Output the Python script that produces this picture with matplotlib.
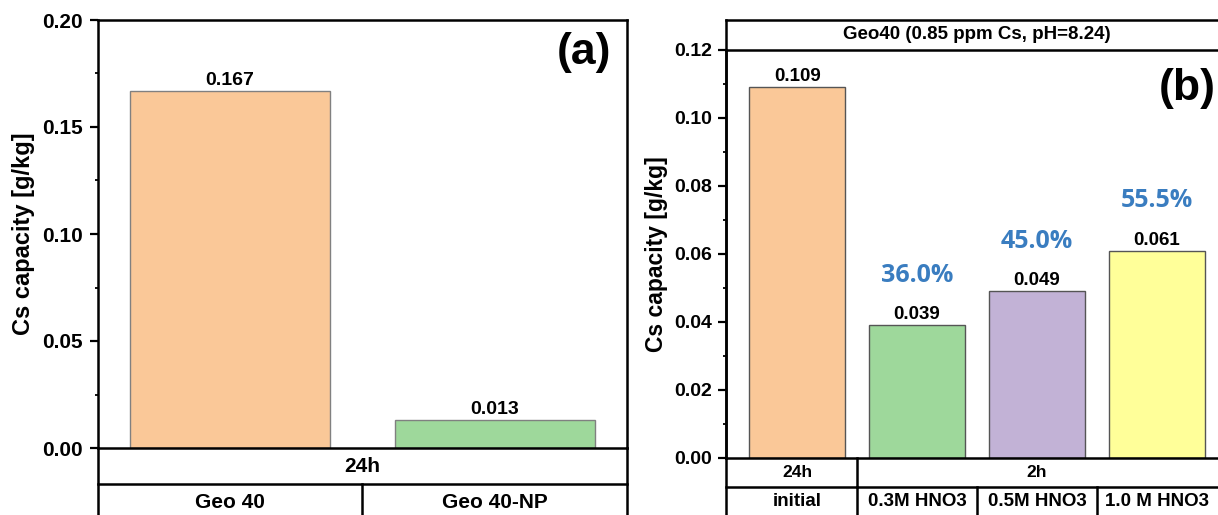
import matplotlib
matplotlib.use("Agg")
import matplotlib.pyplot as plt
from matplotlib.lines import Line2D
from matplotlib.ticker import FormatStrFormatter, MultipleLocator
import matplotlib.transforms as mtrans

plt.rcParams["font.family"] = ["Liberation Sans", "DejaVu Sans"]
plt.rcParams["font.weight"] = "bold"

# ---- data ----
cats_a = ["Geo 40", "Geo 40-NP"]
vals_a = [0.167, 0.013]
colors_a = ["#FAC898", "#9ED89B"]
time_a = "24h"

cats_b = ["initial", "0.3M HNO3", "0.5M HNO3", "1.0 M HNO3"]
vals_b = [0.109, 0.039, 0.049, 0.061]
colors_b = ["#FAC898", "#9ED89B", "#C2B2D6", "#FFFF99"]
pct_b = [None, 36.0, 45.0, 55.5]
time_groups_b = [("24h", 0, 1), ("2h", 1, 4)]   # label, first idx, end idx
header_b = "Geo40 (0.85 ppm Cs, pH=8.24)"

W, H = 1218, 515
fig = plt.figure(figsize=(W / 100, H / 100), dpi=100)


def px_axes(l, t, r, b):
    return fig.add_axes([l / W, 1 - b / H, (r - l) / W, (b - t) / H])


LW = 1.8
PCT_BLUE = "#3A7DC0"


def style(ax, major, minor, fs, pad):
    for s in ax.spines.values():
        s.set_linewidth(LW)
    ax.set_xticks([])
    ax.yaxis.set_major_locator(MultipleLocator(major))
    ax.yaxis.set_minor_locator(MultipleLocator(minor))
    ax.yaxis.set_major_formatter(FormatStrFormatter("%.2f"))
    ax.tick_params(axis="y", which="major", direction="out", length=5.5,
                   width=1.6, labelsize=fs, pad=pad)
    ax.tick_params(axis="y", which="minor", direction="out", length=2.5, width=1.3)
    for lab in ax.get_yticklabels():
        lab.set_fontweight("bold")


def hline(ax, y, x0=0, x1=1, tr=None):
    ax.add_line(Line2D([x0, x1], [y, y], transform=tr or ax.transAxes,
                       color="black", lw=LW, clip_on=False))


def vline(ax, x, y0, y1, tr=None):
    ax.add_line(Line2D([x, x], [y0, y1], transform=tr or ax.transAxes,
                       color="black", lw=LW, clip_on=False))


# ---------------- panel (a) ----------------
axa = px_axes(97.5, 20, 627, 448)
xa = list(range(1, len(cats_a) + 1))
axa.bar(xa, vals_a, width=0.755, color=colors_a, edgecolor="#808080", linewidth=1.0)
axa.set_xlim(0.5, len(cats_a) + 0.5)
axa.set_ylim(0, 0.20)
style(axa, 0.05, 0.025, 15, 5)
for x, v in zip(xa, vals_a):
    axa.annotate(f"{v:.3f}", (x, v), xytext=(0, 1.5), textcoords="offset points",
                 ha="center", va="bottom", fontsize=14, fontweight="bold")
axa.text(-0.14, 0.5, "Cs capacity [g/kg]", transform=axa.transAxes, rotation=90,
         ha="center", va="center", fontsize=17, fontweight="bold")
axa.text(0.97, 0.925, "(a)", transform=axa.transAxes, ha="right", va="center",
         fontsize=32, fontweight="bold")

ha_px = 428.0
r1 = -36 / ha_px
r2 = -72 / ha_px
hline(axa, r1)
vline(axa, 0, 0, -0.3)
vline(axa, 1, 0, -0.3)
blend_a = mtrans.blended_transform_factory(axa.transData, axa.transAxes)
axa.text(0.5, r1 / 2, time_a, transform=axa.transAxes, ha="center", va="center",
         fontsize=15, fontweight="bold")
for i, c in enumerate(cats_a):
    axa.text(xa[i], (r1 + r2) / 2, c, transform=blend_a, ha="center", va="center",
             fontsize=15, fontweight="bold")
    if i > 0:
        vline(axa, xa[i] - 0.5, r1, -0.3, tr=blend_a)

# ---------------- panel (b) ----------------
axb = px_axes(725.5, 50, 1228.5, 458)
xb = list(range(1, len(cats_b) + 1))
axb.bar(xb, vals_b, width=0.8, color=colors_b, edgecolor="#555555", linewidth=1.0)
axb.set_xlim(0.4, len(cats_b) + 0.6)
axb.set_ylim(0, 0.12)
style(axb, 0.02, 0.01, 14, 4)
for x, v, p in zip(xb, vals_b, pct_b):
    axb.annotate(f"{v:.3f}", (x, v), xytext=(0, 1.5), textcoords="offset points",
                 ha="center", va="bottom", fontsize=13.5, fontweight="bold")
    if p is not None:
        axb.text(x, v + 0.0148, f"{p:.1f}%", ha="center", va="center",
                 fontsize=18, fontweight="bold", color=PCT_BLUE,
                 family=["Open Sans", "DejaVu Sans"])
axb.text(-0.138, 0.5, "Cs capacity [g/kg]", transform=axb.transAxes, rotation=90,
         ha="center", va="center", fontsize=16.5, fontweight="bold")
axb.text(0.975, 0.905, "(b)", transform=axb.transAxes, ha="right", va="center",
         fontsize=32, fontweight="bold")

hb_px = 408.0
top = 1 + 30.5 / hb_px
hline(axb, top)
vline(axb, 0, 0, top)
vline(axb, 1, 0, top)
axb.text(0.5, (1 + top) / 2, header_b, transform=axb.transAxes, ha="center",
         va="center", fontsize=13.5, fontweight="bold")

q1 = -29 / hb_px
q2 = -59 / hb_px
hline(axb, q1)
vline(axb, 0, 0, -0.3)
vline(axb, 1, 0, -0.3)
blend_b = mtrans.blended_transform_factory(axb.transData, axb.transAxes)
for lab, i0, i1 in time_groups_b:
    axb.text((xb[i0] + xb[i1 - 1]) / 2, q1 / 2, lab, transform=blend_b,
             ha="center", va="center", fontsize=12.5, fontweight="bold")
    if i0 > 0:
        vline(axb, xb[i0] - 0.5, 0, q1, tr=blend_b)
for i, c in enumerate(cats_b):
    axb.text(xb[i], (q1 + q2) / 2, c, transform=blend_b, ha="center", va="center",
             fontsize=13.5, fontweight="bold")
    if i > 0:
        vline(axb, xb[i] - 0.5, q1, -0.3, tr=blend_b)

fig.savefig("out.png", dpi=100)
